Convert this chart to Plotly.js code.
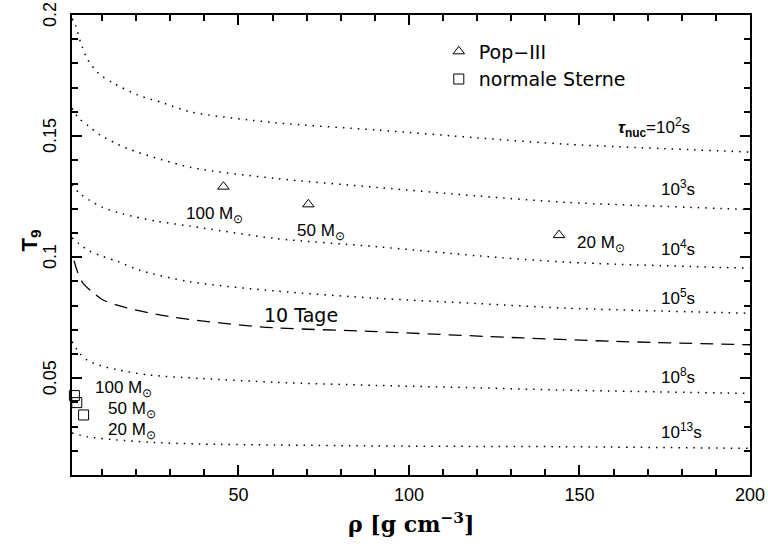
<!DOCTYPE html>
<html><head><meta charset="utf-8">
<script src="https://cdn.plot.ly/plotly-3.0.1.min.js"></script>
<style>html,body{margin:0;padding:0;background:#fff}#chart{width:768px;height:554px}</style>
</head><body><div id="chart"></div>
<script>
// tau_nuc = 1e2 s
const rho_1e2 = [1.2, 2.2, 3.7, 5.7, 8.9, 13.3, 20.4, 27.9, 35.9, 60.9, 90.6, 120.5, 146.4, 200];
const T_1e2   = [0.1985, 0.1959, 0.1888, 0.1818, 0.176, 0.1719, 0.167, 0.1637, 0.160, 0.1555, 0.1525, 0.1492, 0.1466, 0.1434];
// tau_nuc = 1e3 s
const rho_1e3 = [1.2, 3.1, 6.0, 9.5, 13.9, 17.7, 35.9, 60.9, 90.6, 120.5, 146.4, 200];
const T_1e3   = [0.1615, 0.1575, 0.1542, 0.1504, 0.1471, 0.1447, 0.1371, 0.1325, 0.1288, 0.1252, 0.1226, 0.1197];
// tau_nuc = 1e4 s
const rho_1e4 = [1.2, 3.3, 6.3, 10.2, 16.2, 26.1, 35.9, 60.9, 90.6, 120.5, 146.4, 200];
const T_1e4   = [0.130, 0.1265, 0.1235, 0.1205, 0.1178, 0.1148, 0.1128, 0.1077, 0.1043, 0.1005, 0.0979, 0.0954];
// tau_nuc = 1e5 s
const rho_1e5 = [1.2, 3.3, 6.3, 10.2, 14.8, 21.2, 35.9, 60.9, 90.6, 120.5, 146.4, 200];
const T_1e5   = [0.108, 0.1055, 0.1025, 0.1003, 0.0981, 0.0945, 0.0898, 0.086, 0.083, 0.0808, 0.0789, 0.0768];
// 10 Tage
const rho_10d = [1.8, 2.8, 4.3, 7.05, 10.3, 17.3, 30.0, 56.4, 90.6, 133.4, 160.3, 200];
const T_10d   = [0.0985, 0.094, 0.0895, 0.0857, 0.0823, 0.079, 0.0754, 0.0712, 0.0692, 0.0666, 0.0652, 0.0638];
// tau_nuc = 1e8 s
const rho_1e8 = [1.2, 3.3, 5.6, 9.5, 14.4, 23.8, 38.8, 60.9, 90.6, 120.5, 144.4, 200];
const T_1e8   = [0.0651, 0.0605, 0.0575, 0.0552, 0.0535, 0.0513, 0.0499, 0.0483, 0.047, 0.046, 0.0451, 0.0437];
// tau_nuc = 1e13 s
const rho_1e13 = [1.2, 5.6, 14.4, 24.1, 38.8, 60.9, 90.6, 120.5, 144.4, 200];
const T_1e13   = [0.0274, 0.0258, 0.0245, 0.0235, 0.0228, 0.0224, 0.022, 0.0218, 0.0217, 0.021];

// stars
const popRho = [45.6, 70.5, 144.0];
const popT   = [0.1291, 0.1218, 0.1091];
const popMass = ['100', '50', '20'];
const normRho = [1.9, 2.6, 4.6];
const normT   = [0.0428, 0.0399, 0.0348];
const normMass = ['100', '50', '20'];

const xTicks = [50, 100, 150, 200];
const yTicks = [0.05, 0.1, 0.15, 0.2];
const yTickText = ['0.05', '0.1', '0.15', '0.2'];

const xRange = [1.2, 200];
const yRange = [0.01, 0.2];

const dotLine = {color: '#000', width: 1.5, dash: '1.5px,6px', shape: 'spline', smoothing: 0.8};
const curves = [[rho_1e2, T_1e2], [rho_1e3, T_1e3], [rho_1e4, T_1e4], [rho_1e5, T_1e5], [rho_1e8, T_1e8], [rho_1e13, T_1e13]];
const traces = curves.map(c => ({x: c[0], y: c[1], mode: 'lines', line: dotLine, showlegend: false, hoverinfo: 'skip'}));
traces.push({x: rho_10d, y: T_10d, mode: 'lines', showlegend: false,
  line: {color: '#000', width: 1.3, dash: '13px,8px', shape: 'spline', smoothing: 0.8}});
traces.push({x: popRho, y: popT, mode: 'markers', name: 'Pop\u2212III', cliponaxis: false,
  marker: {symbol: 'triangle-up-open', size: 10, color: '#000', line: {width: 1, color: '#000'}}});
traces.push({x: normRho, y: normT, mode: 'markers', name: 'normale Sterne', cliponaxis: false,
  marker: {symbol: 'square-open', size: 10, color: '#000', line: {width: 1, color: '#000'}}});

const F = 'Liberation Sans, Arial, sans-serif';
const FD = 'DejaVu Sans, sans-serif';
const ann = [];
function lab(x, y, text, xa, fam, size) {
  ann.push({x: x, y: y, xref: 'x', yref: 'y', text: text, showarrow: false, xanchor: xa || 'left', yanchor: 'middle',
    font: {family: fam || F, size: size || 17, color: '#000'}});
}
const sun = ' M<sub>\u2299</sub>';
lab(183, 0.1537, '<b><i>\u03c4</i><sub>nuc</sub></b>=10<sup>2</sup>s', 'right');
lab(173.3, 0.1285, '10<sup>3</sup>s');
lab(173.3, 0.1038, '10<sup>4</sup>s');
lab(173.3, 0.0835, '10<sup>5</sup>s');
lab(173.3, 0.0509, '10<sup>8</sup>s');
lab(173.3, 0.0282, '10<sup>13</sup>s');
lab(68.4, 0.0761, '10 Tage', 'center', FD, 19);
lab(34.1, 0.1175, popMass[0] + sun);
lab(66.6, 0.1105, popMass[1] + sun);
lab(148.7, 0.1055, popMass[2] + sun);
lab(7.4, 0.0455, normMass[0] + sun);
lab(11.25, 0.0370, normMass[1] + sun);
lab(11.25, 0.0283, normMass[2] + sun);

// y tick labels (rotated)
yTicks.forEach((v, i) => ann.push({xref: 'paper', x: 0, yref: 'y', y: v, text: yTickText[i], textangle: -90,
  xanchor: 'center', yanchor: 'middle', xshift: -22, showarrow: false, font: {family: F, size: 18, color: '#000'}}));
// axis titles
ann.push({xref: 'paper', yref: 'paper', x: 0, y: 0.51, xshift: -41, textangle: -90, xanchor: 'center', yanchor: 'middle',
  showarrow: false, text: '<b>T<sub>9</sub></b>', font: {family: F, size: 22, color: '#000'}});
ann.push({xref: 'paper', yref: 'paper', x: 0.5, y: -0.105, xanchor: 'center', yanchor: 'middle', showarrow: false,
  text: '<b>\u03c1 [g cm<sup>\u22123</sup>]</b>', font: {family: 'DejaVu Serif, Liberation Serif, serif', size: 22, color: '#000'}});

const axBase = {showline: true, linewidth: 2, linecolor: '#000', mirror: 'allticks', ticks: 'inside', ticklen: 10,
  tickwidth: 2, tickcolor: '#000', showgrid: false, zeroline: false};

const layout = {
  width: 768, height: 554,
  margin: {l: 72, r: 18, t: 15, b: 79},
  paper_bgcolor: '#fff', plot_bgcolor: '#fff',
  showlegend: true,
  legend: {x: 0.541, y: 0.962, xanchor: 'left', yanchor: 'top', bgcolor: 'rgba(0,0,0,0)',
    font: {family: FD, size: 19, color: '#000'}, tracegroupgap: 0},
  xaxis: Object.assign({}, axBase, {range: xRange, tickmode: 'array', tickvals: xTicks, ticklabelstandoff: 2,
    tickfont: {family: F, size: 18, color: '#000'},
    minor: {tickmode: 'linear', tick0: 0, dtick: 10, ticks: 'inside', ticklen: 6, tickwidth: 2, tickcolor: '#000'}}),
  yaxis: Object.assign({}, axBase, {range: yRange, tickmode: 'array', tickvals: yTicks, showticklabels: false,
    minor: {tickmode: 'linear', tick0: 0, dtick: 0.01, ticks: 'inside', ticklen: 6, tickwidth: 2, tickcolor: '#000'}}),
  annotations: ann
};
Plotly.newPlot('chart', traces, layout, {displayModeBar: false, staticPlot: true});
</script></body></html>
